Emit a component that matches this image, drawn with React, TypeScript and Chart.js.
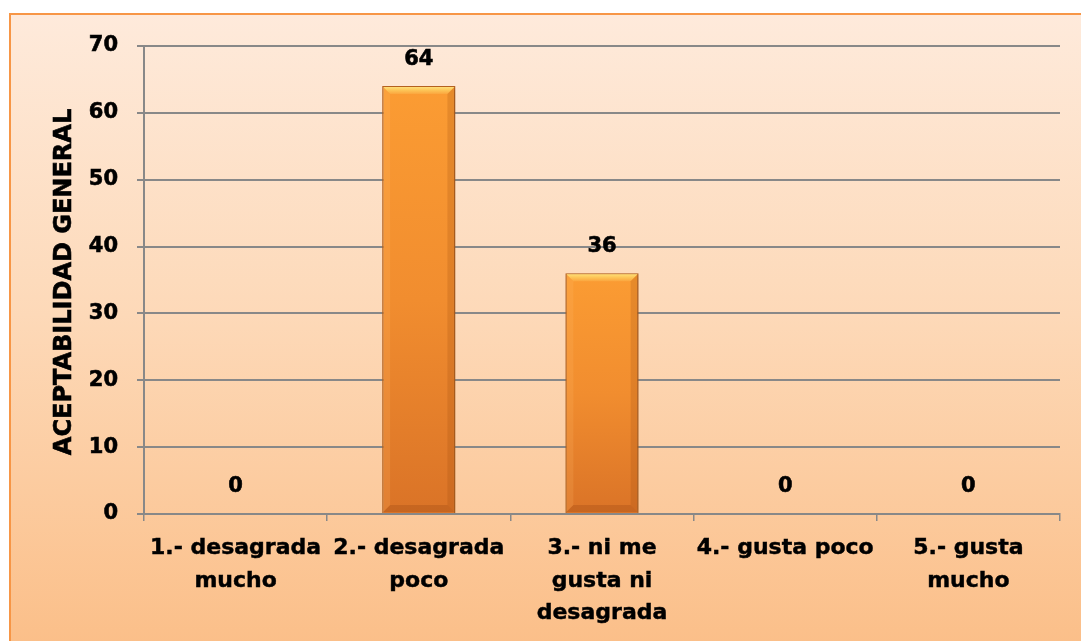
import React, { useEffect, useRef } from "react";
import { Chart, registerables } from "chart.js";

Chart.register(...registerables);

// Respuestas por categoría de aceptabilidad
const categories: string[][] = [
  ["1.- desagrada", "mucho"],
  ["2.- desagrada", "poco"],
  ["3.- ni me", "gusta ni", "desagrada"],
  ["4.- gusta poco"],
  ["5.- gusta", "mucho"],
];
const values: number[] = [0, 64, 36, 0, 0];
const yTicks: number[] = [0, 10, 20, 30, 40, 50, 60, 70];
const yTitle = "ACEPTABILIDAD GENERAL";

const FONT = "'DejaVu Sans', Arial, sans-serif";
const GRID = "#888888";

// Sombra suave detrás de las barras
const shadowPlugin = {
  id: "barShadow",
  beforeDatasetsDraw(chart: any) {
    const ctx = chart.ctx;
    ctx.save();
    ctx.shadowColor = "rgba(90,60,30,0.35)";
    ctx.shadowBlur = 5;
    ctx.shadowOffsetX = 1;
    ctx.shadowOffsetY = 1;
  },
  afterDatasetsDraw(chart: any) {
    chart.ctx.restore();
  },
};

// Título vertical del eje Y, con trazo para engrosar la letra
const yTitlePlugin = {
  id: "yTitle",
  afterDraw(chart: any) {
    const ctx = chart.ctx;
    const area = chart.chartArea;
    ctx.save();
    ctx.translate(65, (area.top + area.bottom) / 2 + 2);
    ctx.rotate(-Math.PI / 2);
    ctx.font = `bold 24px ${FONT}`;
    ctx.textAlign = "center";
    ctx.textBaseline = "middle";
    ctx.fillStyle = "#000000";
    ctx.strokeStyle = "#000000";
    ctx.lineWidth = 0.6;
    ctx.fillText(yTitle, 0, 0);
    ctx.strokeText(yTitle, 0, 0);
    ctx.restore();
  },
};

// Biseles de las barras y etiquetas de valor
const bevelAndLabels = {
  id: "bevelAndLabels",
  afterDatasetsDraw(chart: any) {
    const ctx = chart.ctx;
    const meta = chart.getDatasetMeta(0);
    meta.data.forEach((bar: any, i: number) => {
      const { x, y, base, width } = bar.getProps(["x", "y", "base", "width"], true);
      const left = x - width / 2;
      const right = x + width / 2;
      const h = base - y;
      if (h > 2) {
        const b = Math.min(8, h / 2);
        ctx.save();
        // bisel superior
        const g = ctx.createLinearGradient(0, y, 0, y + b);
        g.addColorStop(0, "#ffe580");
        g.addColorStop(0.5, "#fdc658");
        g.addColorStop(1, "#fba53e");
        ctx.fillStyle = g;
        ctx.beginPath();
        ctx.moveTo(left + 1, y + 1);
        ctx.lineTo(right - 1, y + 1);
        ctx.lineTo(right - b, y + b);
        ctx.lineTo(left + b, y + b);
        ctx.closePath();
        ctx.fill();
        // bisel izquierdo
        ctx.fillStyle = "rgba(255,190,110,0.18)";
        ctx.beginPath();
        ctx.moveTo(left + 1, y + 1);
        ctx.lineTo(left + b, y + b);
        ctx.lineTo(left + b, base - b);
        ctx.lineTo(left + 1, base - 1);
        ctx.closePath();
        ctx.fill();
        // bisel derecho
        ctx.fillStyle = "rgba(150,70,10,0.2)";
        ctx.beginPath();
        ctx.moveTo(right - 1, y + 1);
        ctx.lineTo(right - b, y + b);
        ctx.lineTo(right - b, base - b);
        ctx.lineTo(right - 1, base - 1);
        ctx.closePath();
        ctx.fill();
        // bisel inferior
        ctx.fillStyle = "rgba(140,60,10,0.25)";
        ctx.beginPath();
        ctx.moveTo(left + 1, base - 1);
        ctx.lineTo(right - 1, base - 1);
        ctx.lineTo(right - b, base - b);
        ctx.lineTo(left + b, base - b);
        ctx.closePath();
        ctx.fill();
        ctx.restore();
      }
      ctx.save();
      ctx.fillStyle = "#000000";
      ctx.strokeStyle = "#000000";
      ctx.lineWidth = 0.6;
      ctx.font = `bold 21px ${FONT}`;
      ctx.textAlign = "center";
      ctx.textBaseline = "middle";
      ctx.fillText(String(values[i]), x, y - 27);
      ctx.strokeText(String(values[i]), x, y - 27);
      ctx.restore();
    });
  },
};

export default function App() {
  const canvasRef = useRef<HTMLCanvasElement | null>(null);

  useEffect(() => {
    const canvas = canvasRef.current;
    if (!canvas) return;
    const chart = new Chart(canvas, {
      type: "bar",
      data: {
        labels: categories,
        datasets: [
          {
            data: values,
            backgroundColor: (c: any) => {
              const ch = c.chart;
              const area = ch.chartArea;
              if (!area || c.raw === undefined) return "#f0892e";
              const yScale = ch.scales.y;
              const top = yScale.getPixelForValue(c.raw);
              const bottom = yScale.getPixelForValue(0);
              if (bottom - top < 1) return "#f0892e";
              const g = ch.ctx.createLinearGradient(0, top, 0, bottom);
              g.addColorStop(0, "#fb9c33");
              g.addColorStop(0.5, "#f18d2f");
              g.addColorStop(1, "#da7327");
              return g;
            },
            borderColor: "#b8631f",
            borderWidth: 1.5,
            barPercentage: 0.4,
            categoryPercentage: 1,
          },
        ],
      },
      options: {
        responsive: false,
        animation: false,
        layout: { padding: { left: 46, right: 21, top: 46, bottom: 0 } },
        plugins: {
          legend: { display: false },
          tooltip: { enabled: false },
        },
        scales: {
          x: {
            offset: true,
            grid: {
              display: true,
              drawOnChartArea: false,
              drawTicks: true,
              tickLength: 7,
              offset: true,
              color: GRID,
              lineWidth: 1.5,
            },
            border: { display: true, color: GRID, width: 2 },
            ticks: {
              color: "#000000",
              textStrokeColor: "#000000",
              textStrokeWidth: 0.45,
              padding: 11,
              maxRotation: 0,
              autoSkip: false,
              font: { family: FONT, weight: "bold", size: 22, lineHeight: 1.48 },
            },
            afterFit: (scale: any) => {
              scale.height = 127;
            },
          },
          y: {
            min: 0,
            max: 70,
            afterBuildTicks: (scale: any) => {
              scale.ticks = yTicks.map((v) => ({ value: v }));
            },
            grid: {
              color: GRID,
              lineWidth: 2,
              tickLength: 7,
            },
            border: { display: true, color: GRID, width: 2 },
            ticks: {
              color: "#000000",
              textStrokeColor: "#000000",
              textStrokeWidth: 0.6,
              padding: 19,
              font: { family: FONT, weight: "bold", size: 21 },
            },
            afterFit: (scale: any) => {
              scale.width = 98;
            },
          },
        },
      },
      plugins: [shadowPlugin, bevelAndLabels, yTitlePlugin],
    });
    return () => chart.destroy();
  }, []);

  return (
    <div
      style={{
        position: "fixed",
        left: 0,
        top: 0,
        width: 1081,
        height: 641,
        background: "#ffffff",
        overflow: "hidden",
      }}
    >
      <div
        style={{
          position: "absolute",
          left: 9,
          top: 13,
          width: 1400,
          height: 900,
          boxSizing: "border-box",
          borderLeft: "2.5px solid #f79646",
          borderTop: "2.5px solid #f79646",
          background: "linear-gradient(to bottom, #feeadb 0px, #fdd9b8 300px, #fbbf89 628px, #fbbf89 900px)",
        }}
      />
      <canvas
        ref={canvasRef}
        width={1081}
        height={641}
        style={{ position: "absolute", left: 0, top: 0, width: 1081, height: 641 }}
      />
    </div>
  );
}
